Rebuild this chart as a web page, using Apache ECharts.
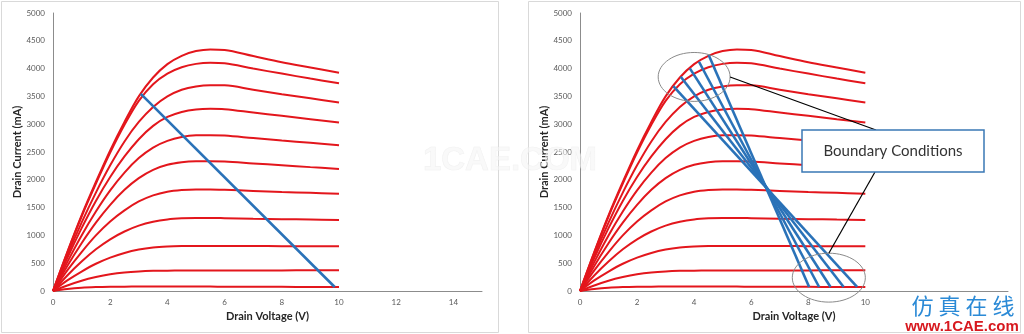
<!DOCTYPE html>
<html><head><meta charset="utf-8">
<script src="https://cdn.jsdelivr.net/npm/echarts@6/dist/echarts.min.js"></script>
<style>html,body{margin:0;padding:0;background:#fff}#c{width:1024px;height:334px}</style>
</head><body><div id="c"></div>
<script>
// ---- data ----
const voltages = [0, 0.5, 1, 1.5, 2, 2.5, 3, 3.5, 4, 4.5, 5, 5.5, 6, 7, 8, 9, 10];
const curve01 = [0, 35, 58, 70, 76, 78, 79, 79, 79, 79, 79, 79, 78, 77, 75, 73, 72];
const curve02 = [0, 100, 185, 250, 300, 333, 352, 362, 366, 367, 367, 367, 368, 369, 370, 372, 373];
const curve03 = [0, 190, 350, 490, 600, 685, 745, 782, 800, 808, 810, 810, 809, 808, 807, 806, 805];
const curve04 = [0, 280, 530, 750, 930, 1070, 1175, 1245, 1287, 1307, 1314, 1314, 1310, 1300, 1292, 1285, 1279];
const curve05 = [0, 370, 700, 1000, 1250, 1450, 1610, 1720, 1785, 1815, 1826, 1826, 1820, 1800, 1780, 1765, 1747];
const curve06 = [0, 450, 860, 1230, 1550, 1820, 2030, 2180, 2270, 2315, 2333, 2335, 2328, 2295, 2262, 2228, 2195];
const curve07 = [0, 520, 1000, 1430, 1810, 2130, 2390, 2580, 2700, 2770, 2800, 2803, 2795, 2750, 2705, 2665, 2623];
const curve08 = [0, 590, 1130, 1620, 2050, 2420, 2730, 2970, 3130, 3220, 3265, 3277, 3270, 3210, 3150, 3090, 3032];
const curve09 = [0, 640, 1230, 1770, 2260, 2690, 3040, 3310, 3500, 3620, 3680, 3702, 3700, 3620, 3540, 3465, 3392];
const curve10 = [0, 690, 1340, 1930, 2490, 2990, 3420, 3720, 3910, 4025, 4085, 4105, 4095, 4000, 3910, 3820, 3735];
const curve11 = [0, 700, 1360, 1960, 2530, 3040, 3500, 3840, 4080, 4230, 4315, 4345, 4335, 4225, 4115, 4020, 3925];
const curves = [curve01, curve02, curve03, curve04, curve05, curve06, curve07, curve08, curve09, curve10, curve11];

const loadLineLeft = [[3.07, 3545], [9.85, 72]];
const loadLine1 = [[3.27, 3686], [9.71, 72]];
const loadLine2 = [[3.53, 3853], [9.24, 72]];
const loadLine3 = [[3.85, 4004], [8.78, 72]];
const loadLine4 = [[4.17, 4123], [8.38, 72]];
const loadLine5 = [[4.51, 4244], [8.03, 72]];
const loadLinesRight = [loadLine1, loadLine2, loadLine3, loadLine4, loadLine5];

const xTicksLeft = [0, 2, 4, 6, 8, 10, 12, 14];
const xTicksRight = [0, 2, 4, 6, 8, 10];
const yTicks = [0, 500, 1000, 1500, 2000, 2500, 3000, 3500, 4000, 4500, 5000];

const xTitle = 'Drain Voltage (V)';
const yTitle = 'Drain Current (mA)';
const calloutText = 'Boundary Conditions';
// annotation ellipses in data coordinates (right chart)
const ellipseTop = [4.0, 3850, 1.26, 440];
const ellipseBottom = [8.72, 240, 1.28, 440];

// ---- chart ----
const RED = '#e3161c', BLUE = '#2a72b8', AXIS = '#8c8c8c', LBL = '#595959';
const FONT = 'Lato, "Open Sans", sans-serif';
const chart = echarts.init(document.getElementById('c'), null, {renderer: 'canvas'});

function xAxis(i, ticks) {
  return {
    type: 'value', gridIndex: i, min: 0, max: 15, interval: 2,
    axisLine: {show: true, lineStyle: {color: AXIS, width: 1}},
    axisTick: {show: false},
    splitLine: {show: false},
    axisLabel: {customValues: ticks, color: LBL, fontSize: 8, fontFamily: FONT, margin: 7, formatter: v => String(v)},
    name: xTitle, nameLocation: 'middle', nameGap: 20,
    nameTextStyle: {color: '#262626', fontSize: 11, fontWeight: 'bold', fontFamily: FONT}
  };
}
function yAxis(i) {
  return {
    type: 'value', gridIndex: i, min: 0, max: 5000, interval: 500,
    axisLine: {show: true, lineStyle: {color: AXIS, width: 1}},
    axisTick: {show: false},
    splitLine: {show: false},
    axisLabel: {customValues: yTicks, color: LBL, fontSize: 8, fontFamily: FONT, margin: 8, formatter: v => String(v)},
    name: yTitle, nameLocation: 'middle', nameGap: 24, nameRotate: 90,
    nameTextStyle: {color: '#262626', fontSize: 11, fontWeight: 'bold', fontFamily: FONT}
  };
}

const series = [];
[0, 1].forEach(g => {
  curves.forEach(c => {
    series.push({
      type: 'line', xAxisIndex: g, yAxisIndex: g, data: voltages.map((v, k) => [v, c[k]]),
      smooth: 0.35, showSymbol: false, silent: true, z: 2,
      lineStyle: {color: RED, width: 2}
    });
  });
});
series.push({type: 'line', xAxisIndex: 0, yAxisIndex: 0, data: loadLineLeft, showSymbol: false, z: 3,
  lineStyle: {color: BLUE, width: 2.6}});
loadLinesRight.forEach(l => series.push({type: 'line', xAxisIndex: 1, yAxisIndex: 1, data: l, showSymbol: false, z: 3,
  lineStyle: {color: BLUE, width: 2.6}}));

chart.setOption({
  animation: false,
  backgroundColor: '#fff',
  grid: [
    {left: 53, top: 13, width: 429, height: 278},
    {left: 580, top: 13, width: 428, height: 278}
  ],
  xAxis: [xAxis(0, xTicksLeft), xAxis(1, xTicksRight)],
  yAxis: [yAxis(0), yAxis(1)],
  series: series
});

// annotations positioned through the chart's own coordinate system
function px(p) { return chart.convertToPixel({gridIndex: 1}, p); }
function ell(e) {
  const c = px([e[0], e[1]]);
  const r = px([e[0] + e[2], e[1] + e[3]]);
  return {cx: c[0], cy: c[1], rx: r[0] - c[0], ry: c[1] - r[1]};
}
const eT = ell(ellipseTop), eB = ell(ellipseBottom);
const box = {x: 802, y: 130, w: 182, h: 42};

chart.setOption({
  graphic: [
    {type: 'rect', shape: {x: 1.5, y: 1.5, width: 497, height: 331}, style: {fill: 'none', stroke: '#d9d9d9', lineWidth: 1}, z: 0, silent: true},
    {type: 'rect', shape: {x: 528.5, y: 1.5, width: 492, height: 331}, style: {fill: 'none', stroke: '#d9d9d9', lineWidth: 1}, z: 0, silent: true},
    {type: 'text', x: 510, y: 161, style: {text: '1CAE.COM', fill: 'rgba(245,245,245,0.6)', stroke: 'rgba(228,228,228,0.55)', lineWidth: 0.6,
      font: 'bold 33px "Liberation Sans", Arial, sans-serif', align: 'center', verticalAlign: 'middle'}, z: 50, silent: true},
    {type: 'ellipse', shape: {cx: eT.cx, cy: eT.cy, rx: eT.rx, ry: eT.ry}, style: {fill: 'none', stroke: '#8a8a8a', lineWidth: 1}, z: 40},
    {type: 'ellipse', shape: {cx: eB.cx, cy: eB.cy, rx: eB.rx, ry: eB.ry}, style: {fill: 'none', stroke: '#8a8a8a', lineWidth: 1}, z: 40},
    {type: 'line', shape: {x1: eT.cx + eT.rx, y1: eT.cy, x2: 876, y2: box.y}, style: {stroke: '#000', lineWidth: 1.2}, z: 40},
    {type: 'line', shape: {x1: 875, y1: box.y + box.h, x2: eB.cx, y2: eB.cy - eB.ry}, style: {stroke: '#000', lineWidth: 1.2}, z: 40},
    {type: 'rect', shape: {x: box.x, y: box.y, width: box.w, height: box.h}, style: {fill: '#fff', stroke: '#3a78b5', lineWidth: 1.5}, z: 41},
    {type: 'text', x: box.x + box.w / 2, y: box.y + box.h / 2, style: {text: calloutText, fill: '#333', font: '15px ' + FONT, align: 'center', verticalAlign: 'middle'}, z: 42},
    {type: 'text', x: 963, y: 306, style: {text: '仿 真 在 线', fill: '#2b8ad6', font: '22px "Noto Sans CJK SC", sans-serif', align: 'center', verticalAlign: 'middle'}, z: 60},
    {type: 'text', x: 962, y: 327, style: {text: 'www.1CAE.com', fill: '#d7191f', font: 'bold 15px "Liberation Sans", Arial, sans-serif', align: 'center', verticalAlign: 'middle'}, z: 60}
  ]
});
</script></body></html>
